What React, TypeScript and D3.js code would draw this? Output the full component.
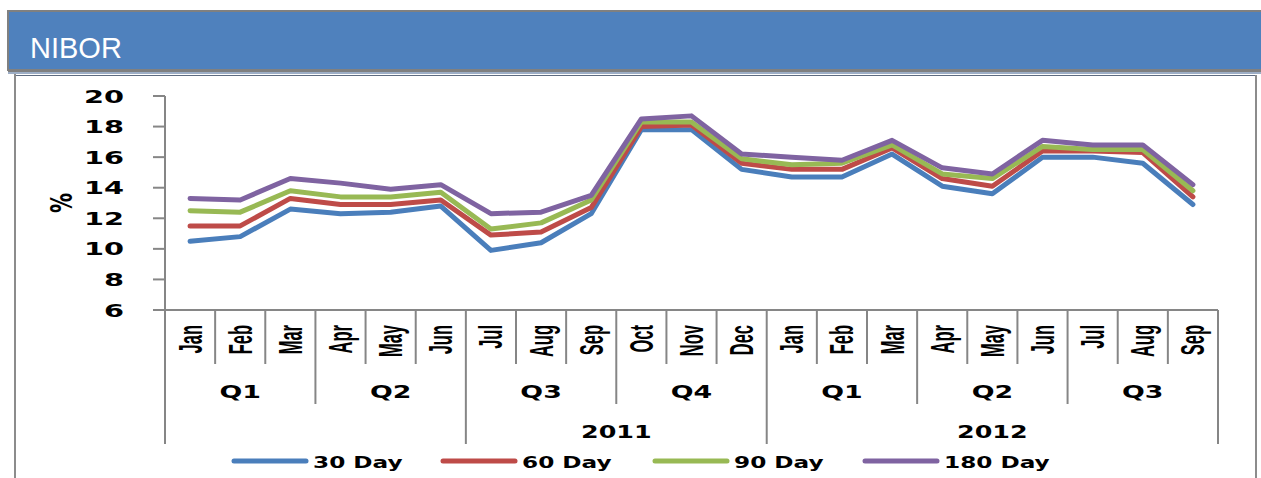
import React from 'react';
import * as d3 from 'd3';

const months = ['Jan', 'Feb', 'Mar', 'Apr', 'May', 'Jun', 'Jul', 'Aug', 'Sep', 'Oct', 'Nov', 'Dec',
  'Jan', 'Feb', 'Mar', 'Apr', 'May', 'Jun', 'Jul', 'Aug', 'Sep']
const quarters = ['Q1', 'Q2', 'Q3', 'Q4', 'Q1', 'Q2', 'Q3']
// year groups: [label, number of months]; first half of 2011 carries no label in the source
const years: [string, number][] = [['', 6], ['2011', 6], ['2012', 9]]
const yTicks = [6, 8, 10, 12, 14, 16, 18, 20]

const day30 = [10.5, 10.8, 12.6, 12.3, 12.4, 12.8, 9.9, 10.4, 12.3, 17.8, 17.8, 15.2, 14.7, 14.7, 16.2, 14.1, 13.6, 16.0, 16.0, 15.6, 12.9]
const day60 = [11.5, 11.5, 13.3, 12.9, 12.9, 13.2, 10.9, 11.1, 12.7, 18.0, 18.1, 15.6, 15.2, 15.2, 16.6, 14.6, 14.1, 16.4, 16.4, 16.3, 13.4]
const day90 = [12.5, 12.4, 13.8, 13.4, 13.4, 13.7, 11.3, 11.7, 13.2, 18.3, 18.3, 15.9, 15.5, 15.6, 16.8, 14.9, 14.6, 16.7, 16.5, 16.5, 13.8]
const day180 = [13.3, 13.2, 14.6, 14.3, 13.9, 14.2, 12.3, 12.4, 13.5, 18.5, 18.7, 16.2, 16.0, 15.8, 17.1, 15.3, 14.9, 17.1, 16.8, 16.8, 14.2]

const seriesNames = ['30 Day', '60 Day', '90 Day', '180 Day']
const seriesValues = [day30, day60, day90, day180]
const seriesColors = ['#4A7EBB', '#BE4B48', '#98B954', '#7F63A1']

const W = 1261
const H = 478
const axisColor = '#868686'
const bold = "'DejaVu Sans', Verdana, sans-serif"
const narrow = "'Liberation Sans', Arial, sans-serif"
const sx = 1.45

const App = () => {
  const xScale = d3.scaleBand<number>()
    .domain(d3.range(months.length))
    .range([165, 1218])
  const bw = xScale.bandwidth()
  const yScale = d3.scaleLinear().domain([6, 20]).range([310, 96])
  const lineGen = d3.line<number>()
    .x((d, i) => (xScale(i) as number) + bw / 2)
    .y(d => yScale(d))

  const x0 = 165
  const axisY = yScale(6)

  // quarter and year boundaries
  const qEdges = quarters.map((q, i) => i * 3)
  let acc = 0
  const yearSpans = years.map(([label, n]) => {
    const s = acc
    acc += n
    return {label, s, e: acc}
  })
  const edgeX = (i: number) => i >= months.length ? 1218 : (xScale(i) as number)

  const legendX = [234, 443, 655, 865]

  return (
    <svg width={W} height={H} style={{position: 'absolute', left: 0, top: 0, background: '#fff'}}>
      {/* header band */}
      <rect x={8} y={11} width={W} height={59} fill='#4F81BD' stroke='#808080' strokeWidth={2}/>
      <rect x={8} y={70} width={W} height={2} fill='#7F7F7F'/>
      <rect x={8} y={72} width={W} height={2} fill='#9DAEC6'/>
      <text x={30} y={58} fill='#fff' fontFamily={narrow} fontSize={29}>NIBOR</text>

      {/* panel */}
      <line x1={14} x2={1256} y1={75.5} y2={75.5} stroke='#5E6B80' strokeWidth={1}/>
      <line x1={15} x2={15} y1={74} y2={H} stroke='#8C8C8C' strokeWidth={2}/>
      <line x1={1256} x2={1256} y1={75} y2={H} stroke='#8C8C8C' strokeWidth={2}/>

      {/* y axis */}
      <line x1={x0} x2={x0} y1={yScale(20)} y2={axisY} stroke={axisColor} strokeWidth={2}/>
      {yTicks.map(t => (
        <g key={t}>
          <line x1={153} x2={x0} y1={yScale(t)} y2={yScale(t)} stroke={axisColor} strokeWidth={2}/>
          <text transform={`translate(124,${yScale(t) + 6.5}) scale(1.6,1)`} textAnchor='end'
            fontFamily={bold} fontWeight='bold' fontSize={18}>{t}</text>
        </g>
      ))}
      <text transform={`translate(72,${yScale(13)}) rotate(-90) scale(1,1.5)`} textAnchor='middle'
        fontFamily={bold} fontWeight='bold' fontSize={20}>%</text>

      {/* x axis */}
      <line x1={x0} x2={1218} y1={axisY} y2={axisY} stroke={axisColor} strokeWidth={2}/>
      {months.map((m, i) => (
        <g key={'m' + i}>
          {i % 3 !== 0 && (
            <line x1={edgeX(i)} x2={edgeX(i)} y1={axisY} y2={364} stroke={axisColor} strokeWidth={2}/>
          )}
          <text transform={`translate(${(xScale(i) as number) + bw / 2 + 11.5},325) rotate(-90) scale(1,2)`}
            textAnchor='end' fontFamily={narrow} fontWeight='bold' fontSize={16.5}>{m}</text>
        </g>
      ))}
      {qEdges.map((s, i) => (
        <g key={'q' + i}>
          {!yearSpans.some(y => y.s === s) && (
            <line x1={edgeX(s)} x2={edgeX(s)} y1={axisY} y2={404} stroke={axisColor} strokeWidth={2}/>
          )}
          <text transform={`translate(${(edgeX(s) + edgeX(s + 3)) / 2},398) scale(${sx},1)`}
            textAnchor='middle' fontFamily={bold} fontWeight='bold' fontSize={18.5}>{quarters[i]}</text>
        </g>
      ))}
      {yearSpans.map((y, i) => (
        <g key={'y' + i}>
          <line x1={edgeX(y.s)} x2={edgeX(y.s)} y1={axisY} y2={444} stroke={axisColor} strokeWidth={2}/>
          <text transform={`translate(${(edgeX(y.s) + edgeX(y.e)) / 2},438) scale(${sx},1)`}
            textAnchor='middle' fontFamily={bold} fontWeight='bold' fontSize={17.5}>{y.label}</text>
        </g>
      ))}
      <line x1={1218} x2={1218} y1={axisY} y2={444} stroke={axisColor} strokeWidth={2}/>

      {/* series */}
      {seriesValues.map((vals, i) => (
        <path key={seriesNames[i]} d={lineGen(vals) || ''} fill='none' stroke={seriesColors[i]}
          strokeWidth={5} strokeLinejoin='round' strokeLinecap='round'/>
      ))}

      {/* legend */}
      {seriesNames.map((n, i) => (
        <g key={'l' + n}>
          <line x1={legendX[i]} x2={legendX[i] + 72} y1={461} y2={461} stroke={seriesColors[i]}
            strokeWidth={5} strokeLinecap='round'/>
          <text transform={`translate(${legendX[i] + 79},468) scale(${sx},1)`} fontFamily={bold}
            fontWeight='bold' fontSize={16}>{n}</text>
        </g>
      ))}
    </svg>
  )
}

export default App
